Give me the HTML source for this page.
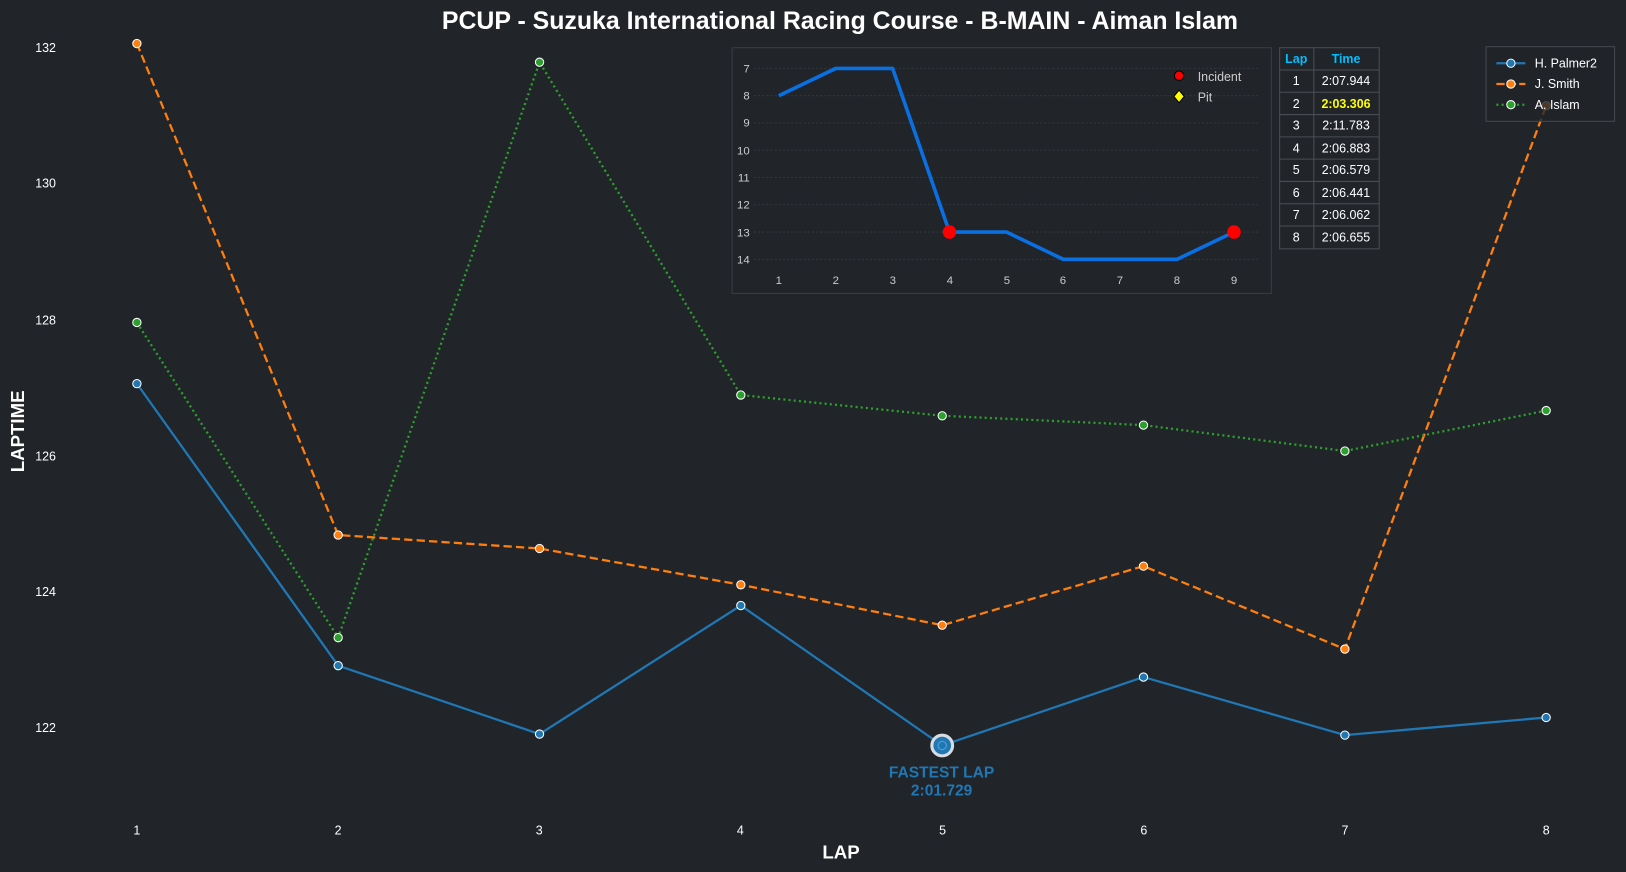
<!DOCTYPE html>
<html><head><meta charset="utf-8"><style>
html,body{margin:0;padding:0;background:#212429;}
svg{display:block;font-family:"Liberation Sans",Arial,sans-serif;}
</style></head><body>
<svg width="1626" height="872" viewBox="0 0 1568 841" preserveAspectRatio="none">
<rect width="1568" height="841" fill="#212429"/>
<text x="810" y="28" fill="#fff" font-size="24" font-weight="bold" text-anchor="middle">PCUP - Suzuka International Racing Course - B-MAIN - Aiman Islam</text>
<g fill="#fff" font-size="12" text-anchor="end">
<text x="54" y="50">132</text><text x="54" y="181">130</text><text x="54" y="313">128</text><text x="54" y="444">126</text><text x="54" y="575">124</text><text x="54" y="706">122</text>
</g>
<g fill="#fff" font-size="12" text-anchor="middle">
<text x="132" y="805">1</text><text x="326" y="805">2</text><text x="520" y="805">3</text><text x="714" y="805">4</text><text x="909" y="805">5</text><text x="1103" y="805">6</text><text x="1297" y="805">7</text><text x="1491" y="805">8</text>
</g>
<text x="811" y="828" fill="#fff" font-size="18" font-weight="bold" text-anchor="middle">LAP</text>
<text transform="translate(23,416) rotate(-90)" fill="#fff" font-size="18" font-weight="bold" text-anchor="middle">LAPTIME</text>

<polyline fill="none" stroke="#1f77b4" stroke-width="2.2" points="132,370 326.1,642 520.3,708 714.4,584 908.6,719 1102.7,653 1296.9,709 1491,692"/>
<polyline fill="none" stroke="#ff7f0e" stroke-width="2.2" stroke-dasharray="8,4" points="132,42 326.1,516 520.3,529 714.4,564 908.6,603 1102.7,546 1296.9,626 1491,102"/>
<polyline fill="none" stroke="#2ca02c" stroke-width="2.2" stroke-dasharray="2,3" points="132,311 326.1,615 520.3,60 714.4,381 908.6,401 1102.7,410 1296.9,435 1491,396"/>
<g stroke="#fff" stroke-width="1">
<g fill="#1f77b4"><circle cx="132" cy="370" r="4"/><circle cx="326.1" cy="642" r="4"/><circle cx="520.3" cy="708" r="4"/><circle cx="714.4" cy="584" r="4"/><circle cx="1102.7" cy="653" r="4"/><circle cx="1296.9" cy="709" r="4"/><circle cx="1491" cy="692" r="4"/></g>
<g fill="#ff7f0e"><circle cx="132" cy="42" r="4"/><circle cx="326.1" cy="516" r="4"/><circle cx="520.3" cy="529" r="4"/><circle cx="714.4" cy="564" r="4"/><circle cx="908.6" cy="603" r="4"/><circle cx="1102.7" cy="546" r="4"/><circle cx="1296.9" cy="626" r="4"/><circle cx="1491" cy="102" r="4"/></g>
<g fill="#2ca02c"><circle cx="132" cy="311" r="4"/><circle cx="326.1" cy="615" r="4"/><circle cx="520.3" cy="60" r="4"/><circle cx="714.4" cy="381" r="4"/><circle cx="908.6" cy="401" r="4"/><circle cx="1102.7" cy="410" r="4"/><circle cx="1296.9" cy="435" r="4"/><circle cx="1491" cy="396" r="4"/></g>
</g>
<circle cx="908.6" cy="719" r="10" fill="#1f77b4" stroke="#d8dde3" stroke-width="3"/>
<circle cx="908.6" cy="719" r="4" fill="#1f77b4" stroke="#5aa0d6" stroke-width="1"/>
<text x="908" y="750" fill="#1f77b4" font-size="15" font-weight="bold" text-anchor="middle">FASTEST LAP</text>
<text x="908" y="767" fill="#1f77b4" font-size="15" font-weight="bold" text-anchor="middle">2:01.729</text>

<!-- inset -->
<rect x="706" y="46" width="520" height="237" fill="#212429" stroke="#3a3e44" stroke-width="1"/>
<g stroke="#33373d" stroke-width="1" stroke-dasharray="2,2">
<line x1="727" x2="1213" y1="66" y2="66"/><line x1="727" x2="1213" y1="92.3" y2="92.3"/><line x1="727" x2="1213" y1="118.6" y2="118.6"/><line x1="727" x2="1213" y1="144.9" y2="144.9"/><line x1="727" x2="1213" y1="171.2" y2="171.2"/><line x1="727" x2="1213" y1="197.5" y2="197.5"/><line x1="727" x2="1213" y1="223.8" y2="223.8"/><line x1="727" x2="1213" y1="250.1" y2="250.1"/>
</g>
<g fill="#ccc" font-size="11" text-anchor="end">
<text x="723" y="70">7</text><text x="723" y="96">8</text><text x="723" y="122">9</text><text x="723" y="149">10</text><text x="723" y="175">11</text><text x="723" y="201">12</text><text x="723" y="228">13</text><text x="723" y="254">14</text>
</g>
<g fill="#ccc" font-size="11" text-anchor="middle">
<text x="751" y="274">1</text><text x="806" y="274">2</text><text x="861" y="274">3</text><text x="916" y="274">4</text><text x="971" y="274">5</text><text x="1025" y="274">6</text><text x="1080" y="274">7</text><text x="1135" y="274">8</text><text x="1190" y="274">9</text>
</g>
<polyline fill="none" stroke="#0a6fe0" stroke-width="3.5" stroke-linejoin="round" points="751,92.3 805.9,66 860.8,66 915.6,223.8 970.5,223.8 1025.4,250.1 1080.3,250.1 1135.1,250.1 1190,223.8"/>
<circle cx="915.6" cy="223.8" r="6.5" fill="#ff0000"/><circle cx="1190" cy="223.8" r="6.5" fill="#ff0000"/>
<circle cx="1137" cy="73" r="4.5" fill="#ff0000" stroke="#000" stroke-width="1"/>
<polygon points="1137,87 1142,93 1137,99 1132,93" fill="#ffff00" stroke="#000" stroke-width="1"/>
<text x="1155" y="78" fill="#ccc" font-size="12">Incident</text>
<text x="1155" y="98" fill="#ccc" font-size="12">Pit</text>

<!-- table -->
<g stroke="#4a4e54" stroke-width="1" fill="none">
<rect x="1234" y="46" width="96" height="194"/>
<line x1="1267" x2="1267" y1="46" y2="240"/>
<line x1="1234" x2="1330" y1="67.5" y2="67.5"/><line x1="1234" x2="1330" y1="89" y2="89"/><line x1="1234" x2="1330" y1="110.5" y2="110.5"/><line x1="1234" x2="1330" y1="132" y2="132"/><line x1="1234" x2="1330" y1="153.5" y2="153.5"/><line x1="1234" x2="1330" y1="175" y2="175"/><line x1="1234" x2="1330" y1="196.5" y2="196.5"/><line x1="1234" x2="1330" y1="218" y2="218"/>
</g>
<g font-size="12" text-anchor="middle" fill="#fff">
<text x="1250" y="61" fill="#00bfff" font-weight="bold">Lap</text><text x="1298" y="61" fill="#00bfff" font-weight="bold">Time</text>
<text x="1250" y="82">1</text><text x="1298" y="82">2:07.944</text>
<text x="1250" y="104">2</text><text x="1298" y="104" fill="#ffff00" font-weight="bold">2:03.306</text>
<text x="1250" y="125">3</text><text x="1298" y="125">2:11.783</text>
<text x="1250" y="147">4</text><text x="1298" y="147">2:06.883</text>
<text x="1250" y="168">5</text><text x="1298" y="168">2:06.579</text>
<text x="1250" y="190">6</text><text x="1298" y="190">2:06.441</text>
<text x="1250" y="211">7</text><text x="1298" y="211">2:06.062</text>
<text x="1250" y="233">8</text><text x="1298" y="233">2:06.655</text>
</g>

<!-- legend -->
<rect x="1433" y="45" width="124" height="72" fill="#212429" fill-opacity="0.8" stroke="#44484e"/>
<line x1="1443" x2="1471" y1="61" y2="61" stroke="#1f77b4" stroke-width="2.2"/><circle cx="1457" cy="61" r="4" fill="#1f77b4" stroke="#fff"/>
<line x1="1443" x2="1471" y1="81" y2="81" stroke="#ff7f0e" stroke-width="2.2" stroke-dasharray="8,3"/><circle cx="1457" cy="81" r="4" fill="#ff7f0e" stroke="#fff"/>
<line x1="1443" x2="1471" y1="101" y2="101" stroke="#2ca02c" stroke-width="2.2" stroke-dasharray="2,3"/><circle cx="1457" cy="101" r="4" fill="#2ca02c" stroke="#fff"/>
<g fill="#fff" font-size="12"><text x="1480" y="65">H. Palmer2</text><text x="1480" y="85">J. Smith</text><text x="1480" y="105">A. Islam</text></g>
</svg>
</body></html>
